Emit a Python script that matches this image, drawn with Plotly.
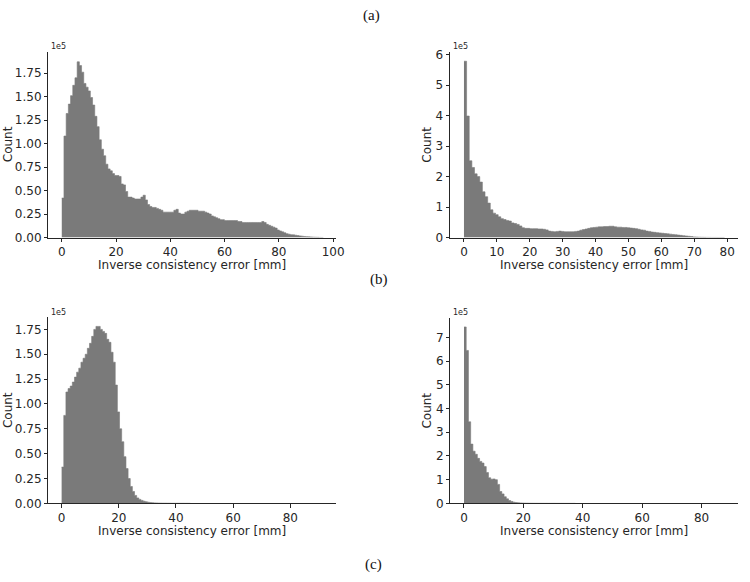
import plotly.graph_objects as go

# ---------------- data (counts in units of 1e5) ----------------
# (a)-left histogram, bin width ~0.81 mm
a_left_counts = [
    0.42, 1.08, 1.32, 1.42, 1.51, 1.62, 1.70, 1.87, 1.83, 1.76,
    1.64, 1.60, 1.56, 1.49, 1.41, 1.29, 1.18, 1.04, 0.94, 0.87,
    0.78, 0.73, 0.71, 0.68, 0.66, 0.66, 0.65, 0.57, 0.56, 0.49,
    0.43, 0.43, 0.42, 0.41, 0.41, 0.41, 0.43, 0.45, 0.40, 0.35,
    0.33, 0.32, 0.32, 0.31, 0.30, 0.29, 0.27, 0.27, 0.27, 0.27,
    0.27, 0.29, 0.30, 0.26, 0.25, 0.25, 0.27, 0.28, 0.29, 0.29,
    0.29, 0.29, 0.28, 0.28, 0.28, 0.27, 0.26, 0.25, 0.23, 0.22,
    0.21, 0.20, 0.19, 0.19, 0.18, 0.18, 0.18, 0.18, 0.18, 0.18,
    0.17, 0.17, 0.16, 0.16, 0.16, 0.16, 0.16, 0.16, 0.16, 0.16,
    0.16, 0.17, 0.16, 0.14, 0.13, 0.12, 0.11, 0.10, 0.08, 0.07,
    0.06, 0.05, 0.04, 0.035, 0.03, 0.028, 0.024, 0.02, 0.017, 0.014,
    0.011, 0.009, 0.007, 0.006, 0.004, 0.003, 0.002, 0.001, 0.0005,
]
a_left_bin = 0.81

# (a)-right histogram, bin width ~0.8 mm
a_right_counts = [
    5.79, 3.99, 2.52, 2.30, 2.09, 2.00, 1.82, 1.50, 1.34, 1.13,
    0.91, 0.80, 0.75, 0.68, 0.62, 0.59, 0.56, 0.54, 0.48, 0.46,
    0.43, 0.38, 0.32, 0.30, 0.30, 0.29, 0.29, 0.29, 0.28, 0.28,
    0.27, 0.25, 0.21, 0.20, 0.19, 0.20, 0.21, 0.20, 0.19, 0.19,
    0.19, 0.19, 0.20, 0.21, 0.24, 0.26, 0.28, 0.30, 0.32, 0.33,
    0.34, 0.35, 0.35, 0.36, 0.36, 0.37, 0.37, 0.35, 0.34, 0.34,
    0.33, 0.33, 0.32, 0.31, 0.30, 0.29, 0.27, 0.25, 0.24, 0.21,
    0.20, 0.18, 0.17, 0.16, 0.15, 0.14, 0.13, 0.12, 0.11, 0.10,
    0.09, 0.08, 0.07, 0.06, 0.05, 0.04, 0.03, 0.02, 0.015, 0.01,
    0.007, 0.005, 0.004, 0.003, 0.002, 0.002, 0.001, 0.001, 0.001,
]
a_right_bin = 0.8

# (b)-left histogram, bin width ~0.75 mm
b_left_counts = [
    0.365, 0.885, 1.12, 1.155, 1.18, 1.22, 1.27, 1.32, 1.36, 1.42,
    1.46, 1.50, 1.56, 1.61, 1.68, 1.75, 1.78, 1.78, 1.75, 1.73,
    1.71, 1.65, 1.62, 1.52, 1.42, 1.19, 0.92, 0.75, 0.62, 0.47,
    0.35, 0.25, 0.17, 0.12, 0.08, 0.055, 0.04, 0.03, 0.022, 0.016,
    0.012, 0.009, 0.007, 0.005, 0.004, 0.003, 0.0025, 0.002, 0.002, 0.0015,
    0.0015, 0.001, 0.001, 0.001, 0.001, 0.0008, 0.0008, 0.0006, 0.0006, 0.0005,
]
b_left_bin = 0.75

# (b)-right histogram, bin width ~0.75 mm
b_right_counts = [
    7.44, 6.45, 3.44, 2.50, 2.20, 2.07, 1.90, 1.77, 1.70, 1.55,
    1.30, 1.08, 1.02, 1.03, 1.00, 0.80, 0.50, 0.40, 0.28, 0.19,
    0.12, 0.08, 0.05, 0.035, 0.025, 0.018, 0.013, 0.010, 0.008, 0.006,
    0.005, 0.004, 0.004, 0.003, 0.003, 0.0025, 0.002, 0.002, 0.002, 0.0015,
    0.0015, 0.0012, 0.001, 0.001, 0.001, 0.0008, 0.0008, 0.0006, 0.0006, 0.0005,
]
b_right_bin = 0.75

a_left_xticks = [0, 20, 40, 60, 80, 100]
a_right_xticks = [0, 10, 20, 30, 40, 50, 60, 70, 80]
b_xticks = [0, 20, 40, 60, 80]
frac_yticks = [0, 0.25, 0.5, 0.75, 1.0, 1.25, 1.5, 1.75]
frac_yticklabels = ["0.00", "0.25", "0.50", "0.75", "1.00", "1.25", "1.50", "1.75"]
a_right_yticks = [0, 1, 2, 3, 4, 5, 6]
b_right_yticks = [0, 1, 2, 3, 4, 5, 6, 7]

x_title = "Inverse consistency error [mm]"
y_title = "Count"
offset_text = "1e5"
panel_labels = ["(a)", "(b)", "(c)"]

# ---------------- figure ----------------
W, H = 750, 582
BAR = "#7a7a7a"
INK = "#262626"
TICKFONT = dict(family="DejaVu Sans", size=12, color=INK)


def px(x):
    return x / W


def py(y):
    return 1 - y / H


fig = go.Figure()

panels = [
    (a_left_counts, a_left_bin, "x", "y", (49, 340), (48.7, 238), (-4.9, 101.2), (0, 1.977),
     a_left_xticks, frac_yticks, frac_yticklabels),
    (a_right_counts, a_right_bin, "x2", "y2", (455, 746), (48.7, 238), (-4.2, 83.3), (0, 6.10),
     a_right_xticks, a_right_yticks, [str(v) for v in a_right_yticks]),
    (b_left_counts, b_left_bin, "x3", "y3", (49, 340), (319, 509), (-4.6, 96.1), (0, 1.875),
     b_xticks, frac_yticks, frac_yticklabels),
    (b_right_counts, b_right_bin, "x4", "y4", (455.3, 746), (320, 509), (-4.56, 92.3), (0, 7.82),
     b_xticks, b_right_yticks, [str(v) for v in b_right_yticks]),
]

for i, (cnt, w, xa, ya, xd, yd, xr, yr, xt, yt, ytt) in enumerate(panels):
    # histogram drawn as a filled step outline (bin left edges + final right edge)
    edges = [k * w for k in range(len(cnt) + 1)]
    fig.add_trace(go.Scatter(
        x=edges, y=list(cnt) + [cnt[-1]],
        mode="lines", line=dict(shape="hv", color=BAR, width=0.6),
        fill="tozeroy", fillcolor=BAR,
        xaxis=xa, yaxis=ya, showlegend=False, hoverinfo="skip",
    ))
    sfx = "" if i == 0 else str(i + 1)
    fig.update_layout(**{
        "xaxis" + sfx: dict(
            domain=[px(xd[0]), px(xd[1])], range=list(xr), anchor=ya,
            tickvals=xt, showline=True, linecolor=INK, linewidth=1,
            ticks="outside", ticklen=3.5, tickwidth=1, tickcolor=INK,
            showgrid=False, zeroline=False, tickfont=TICKFONT, fixedrange=True,
        ),
        "yaxis" + sfx: dict(
            domain=[py(yd[1]), py(yd[0])], range=list(yr), anchor=xa,
            tickvals=yt, ticktext=ytt, showline=True, linecolor=INK, linewidth=1,
            ticks="outside", ticklen=3.5, tickwidth=1, tickcolor=INK,
            showgrid=False, zeroline=False, tickfont=TICKFONT, fixedrange=True,
        ),
    })

annotations = []
for cx, cy in [(194.5, 266), (600.5, 266), (194.5, 537), (600.5, 537)]:
    annotations.append(dict(text=x_title, x=px(cx), y=py(cy), xref="paper", yref="paper",
                            showarrow=False, xanchor="center", yanchor="middle",
                            font=dict(family="DejaVu Sans", size=12, color=INK)))
for cx, cy in [(8, 143), (432, 143), (8, 414), (432, 414)]:
    annotations.append(dict(text=y_title, x=px(cx), y=py(cy), xref="paper", yref="paper",
                            showarrow=False, xanchor="center", yanchor="middle", textangle=-90,
                            font=dict(family="DejaVu Sans", size=12, color=INK)))
for cx, cy in [(50, 43), (456, 43), (50, 314), (456, 314)]:
    annotations.append(dict(text=offset_text, x=px(cx), y=py(cy), xref="paper", yref="paper",
                            showarrow=False, xanchor="left", yanchor="middle",
                            font=dict(family="DejaVu Sans", size=8, color=INK)))
for lab, (cx, cy) in zip(panel_labels, [(375, 12), (383, 281), (378, 571)]):
    annotations.append(dict(text=lab, x=px(cx), y=py(cy), xref="paper", yref="paper",
                            showarrow=False, xanchor="center", yanchor="middle",
                            font=dict(family="Liberation Serif", size=15, color="#111111")))

fig.update_layout(
    width=W, height=H, margin=dict(l=0, r=0, t=0, b=0),
    paper_bgcolor="white", plot_bgcolor="white",
    annotations=annotations,
)

fig.write_html("out.html", config={"displayModeBar": False},
               post_script="document.body.style.margin='0px';")
